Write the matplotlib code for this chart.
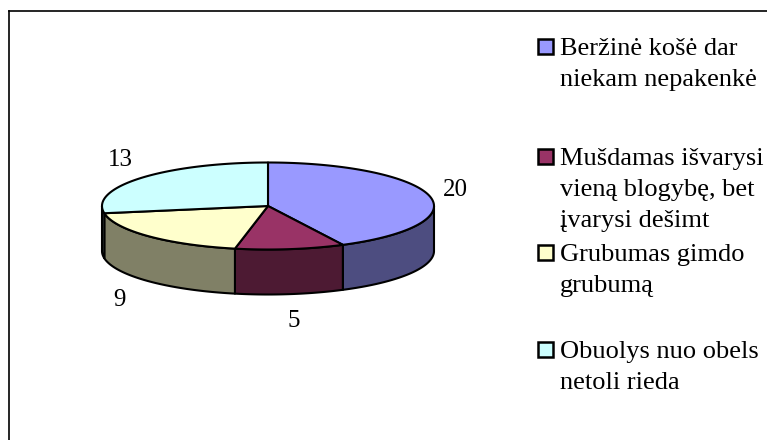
import numpy as np
import matplotlib
matplotlib.use('Agg')
import matplotlib.pyplot as plt
from matplotlib.patches import Polygon, Rectangle
from matplotlib.colors import to_rgb

labels = ["Beržinė košė dar\nniekam nepakenkė",
          "Mušdamas išvarysi\nvieną blogybę, bet\nįvarysi dešimt",
          "Grubumas gimdo\ngrubumą",
          "Obuolys nuo obels\nnetoli rieda"]
values = [20, 5, 9, 13]
top_colors = ["#9999FF", "#993366", "#FFFFCC", "#CCFFFF"]

FONT = 'Liberation Serif'
W, H = 767, 440
fig = plt.figure(figsize=(W / 100, H / 100), dpi=100)
ax = fig.add_axes([0, 0, 1, 1])
ax.set_xlim(0, W)
ax.set_ylim(H, 0)
ax.axis('off')

# frame (only top and left edges visible in the reference crop)
ax.plot([8.5, W], [11.5, 11.5], color='black', lw=1.2)
ax.plot([8.5, 8.5], [11.5, H], color='black', lw=1.2)

cx, cy, rx, ry, depth = 268, 206, 166, 43.5, 45


def pts(a0, a1, dz=0, n=80):
    a = np.radians(np.linspace(a0, a1, n))
    return np.column_stack([cx + rx * np.cos(a), cy - ry * np.sin(a) + dz])


total = sum(values)
angles = 90 - 360 * np.concatenate([[0], np.cumsum(values)]) / total

# sides (front half only)
for i, v in enumerate(values):
    a0, a1 = angles[i], angles[i + 1]
    hi, lo = min(a0, 0), max(a1, -180)
    if hi > lo:
        top = pts(hi, lo)
        bot = pts(lo, hi, depth)
        side_col = tuple(c * 0.5 for c in to_rgb(top_colors[i]))
        ax.add_patch(Polygon(np.vstack([top, bot]), closed=True, facecolor=side_col,
                             edgecolor='black', lw=1.5, joinstyle='round'))

# tops
for i, v in enumerate(values):
    a0, a1 = angles[i], angles[i + 1]
    arc = pts(a0, a1, n=120)
    poly = np.vstack([[cx, cy], arc])
    ax.add_patch(Polygon(poly, closed=True, facecolor=top_colors[i],
                         edgecolor='black', lw=1.5, joinstyle='round'))

# data labels
for i, v in enumerate(values):
    mid = (angles[i] + angles[i + 1]) / 2
    r = np.radians(mid)
    ex, ey = cx + rx * np.cos(r), cy - ry * np.sin(r)
    if np.sin(r) < 0:
        ey += depth
    lx, ly = ex + 27 * np.cos(r), ey - 27 * np.sin(r)
    if np.cos(r) < 0 and np.sin(r) < 0:
        lx -= 10
    ax.text(lx, ly, str(v), fontsize=18, family=FONT, ha='center', va='center')

# legend
first_baselines = [55, 165, 261, 358]
line_gap = 31
for i, lab in enumerate(labels):
    b = first_baselines[i]
    ax.add_patch(Rectangle((537.5, b - 16), 15, 15, facecolor=top_colors[i],
                           edgecolor='black', lw=1.8))
    for j, line in enumerate(lab.split('\n')):
        ax.text(560, b + j * line_gap, line, fontsize=19, family=FONT,
                ha='left', va='baseline')

fig.savefig('out.png', dpi=100)
